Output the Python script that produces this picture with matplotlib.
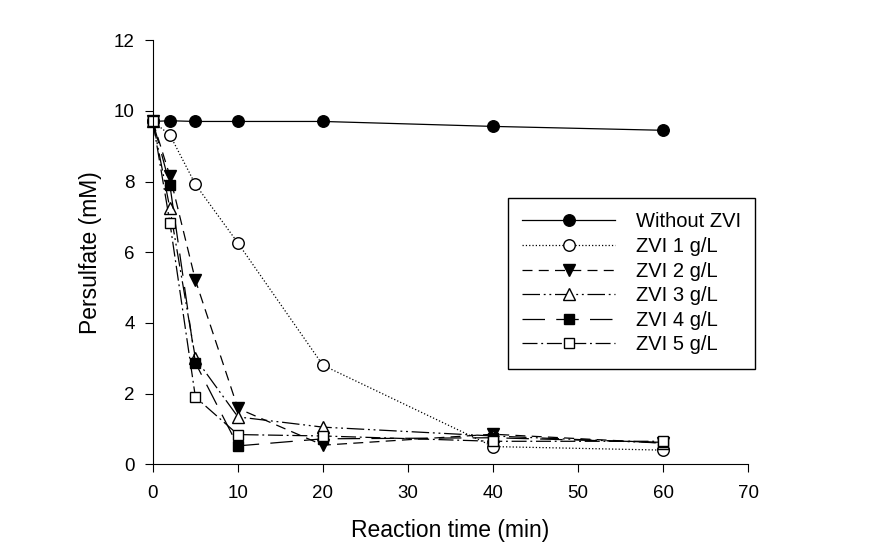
import matplotlib.pyplot as plt

plt.rcParams['font.family'] = ['Liberation Sans', 'DejaVu Sans']

# 反应时间 (min)
t = [0, 2, 5, 10, 20, 40, 60]

without_zvi = [9.7, 9.72, 9.7, 9.7, 9.7, 9.56, 9.45]
zvi_1 = [9.7, 9.32, 7.92, 6.26, 2.8, 0.5, 0.4]
zvi_2 = [9.7, 8.16, 5.21, 1.58, 0.54, 0.85, 0.6]
zvi_3 = [9.7, 7.24, 3.0, 1.34, 1.05, 0.8, 0.6]
zvi_4 = [9.7, 7.9, 2.87, 0.52, 0.72, 0.75, 0.62]
zvi_5 = [9.7, 6.84, 1.9, 0.84, 0.8, 0.65, 0.65]

labels = ['Without ZVI', 'ZVI 1 g/L', 'ZVI 2 g/L', 'ZVI 3 g/L', 'ZVI 4 g/L', 'ZVI 5 g/L']

fig = plt.figure(figsize=(8.94, 5.58), dpi=100)
ax = fig.add_axes([0.171, 0.168, 0.666, 0.760])

ms = 8.3
lw = 0.9
ax.plot(t, without_zvi, '-', color='black', lw=lw, marker='o', ms=ms,
        mfc='black', mec='black', label=labels[0], clip_on=False)
ax.plot(t, zvi_1, ':', color='black', lw=lw, marker='o', ms=ms,
        mfc='white', mec='black', label=labels[1], clip_on=False)
ax.plot(t, zvi_2, color='black', lw=lw, ls=(0, (8, 5)), marker='v', ms=ms,
        mfc='black', mec='black', label=labels[2], clip_on=False)
ax.plot(t, zvi_3, color='black', lw=lw, ls=(0, (14, 3, 1.5, 3, 1.5, 3)), marker='^', ms=ms,
        mfc='white', mec='black', label=labels[3], clip_on=False)
ax.plot(t, zvi_4, color='black', lw=lw, ls=(0, (18, 9)), marker='s', ms=ms - 0.5,
        mfc='black', mec='black', label=labels[4], clip_on=False)
ax.plot(t, zvi_5, color='black', lw=lw, ls=(0, (12, 3, 1.5, 3)), marker='s', ms=ms - 0.5,
        mfc='white', mec='black', label=labels[5], clip_on=False)

ax.set_xlim(0, 70)
ax.set_ylim(0, 12)
ax.set_xticks(range(0, 71, 10))
ax.set_yticks(range(0, 13, 2))
ax.spines['top'].set_visible(False)
ax.spines['right'].set_visible(False)
ax.tick_params(direction='out', length=6, labelsize=13.5)
ax.tick_params(axis='x', pad=9)
ax.tick_params(axis='y', pad=7)
ax.set_xlabel('Reaction time (min)', fontsize=16.5, labelpad=12)
ax.set_ylabel('Persulfate (mM)', fontsize=16.5, labelpad=8.5)

leg = ax.legend(loc='upper left', bbox_to_anchor=(0.5966, 0.6274), borderaxespad=0,
                fontsize=14.5, handlelength=4.6, handletextpad=1.05, labelspacing=0.28,
                fancybox=False, framealpha=1, borderpad=0.7)
leg.get_frame().set_edgecolor('black')
leg.get_frame().set_linewidth(1.0)

fig.savefig('out.png', dpi=100)
